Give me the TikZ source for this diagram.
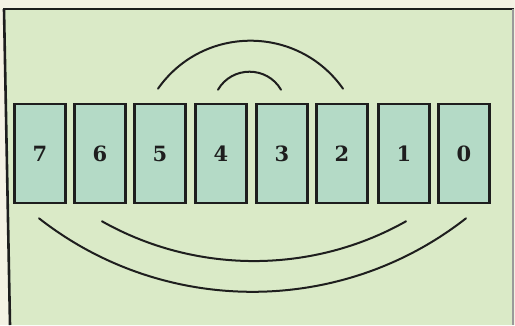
\documentclass[tikz,border=0pt]{standalone}
\usepackage{fontspec}
\setmainfont{Liberation Serif}
\newfontfamily\cardfont{DejaVu Serif}
\definecolor{paper}{HTML}{F4F2E4}
\definecolor{panel}{HTML}{DAEAC7}
\definecolor{cardfill}{HTML}{B4DAC6}
\definecolor{ink}{HTML}{1E1E1E}
\tikzset{
  card/.style={draw=ink, line width=2.6pt, fill=cardfill, minimum width=51pt, minimum height=99pt, inner sep=0pt,
    font=\cardfont\fontsize{21}{25}\selectfont\bfseries, text=ink},
  link/.style={draw=ink, line width=2pt, line cap=round},
  frameline/.style={draw=ink, line width=2.6pt}
}
\begin{document}
\begin{tikzpicture}[x=1pt, y=-1pt]
\useasboundingbox (0,0) rectangle (515,325);
\fill[paper] (0,0) rectangle (515,325);
\fill[panel] (4,9) -- (514,9) -- (514,325) -- (10,325) -- cycle;
\draw[frameline] (3,9) -- (514,9);
\draw[frameline] (4,9) -- (10,325);
\draw[draw=ink!45, line width=1.2pt] (513,9) -- (513,325);
\node[card] (b7) at (40,153.5) {7};
\node[card] (b6) at (100,153.5) {6};
\node[card] (b5) at (160,153.5) {5};
\node[card] (b4) at (221,153.5) {4};
\node[card] (b3) at (282,153.5) {3};
\node[card] (b2) at (342,153.5) {2};
\node[card] (b1) at (404,153.5) {1};
\node[card] (b0) at (464,153.5) {0};
\coordinate (t5) at ([xshift=-2pt,yshift=14pt]b5.north);
\coordinate (t2) at ([xshift=1pt,yshift=14pt]b2.north);
\coordinate (t4) at ([xshift=-3pt,yshift=13pt]b4.north);
\coordinate (t3) at ([xshift=-1pt,yshift=13pt]b3.north);
\coordinate (u6) at ([xshift=2pt,yshift=-17pt]b6.south);
\coordinate (u1) at ([xshift=2pt,yshift=-17pt]b1.south);
\coordinate (u7) at ([xshift=-1pt,yshift=-14pt]b7.south);
\coordinate (u0) at ([xshift=2pt,yshift=-14pt]b0.south);
\draw[link] (t5) .. controls +(45,-64) and +(-45,-64) .. (t2);
\draw[link] (t4) .. controls +(14,-24) and +(-14,-24) .. (t3);
\draw[link] (u6) .. controls +(94,53) and +(-94,53) .. (u1);
\draw[link] (u7) .. controls +(125,98) and +(-125,98) .. (u0);
\end{tikzpicture}
\end{document}
